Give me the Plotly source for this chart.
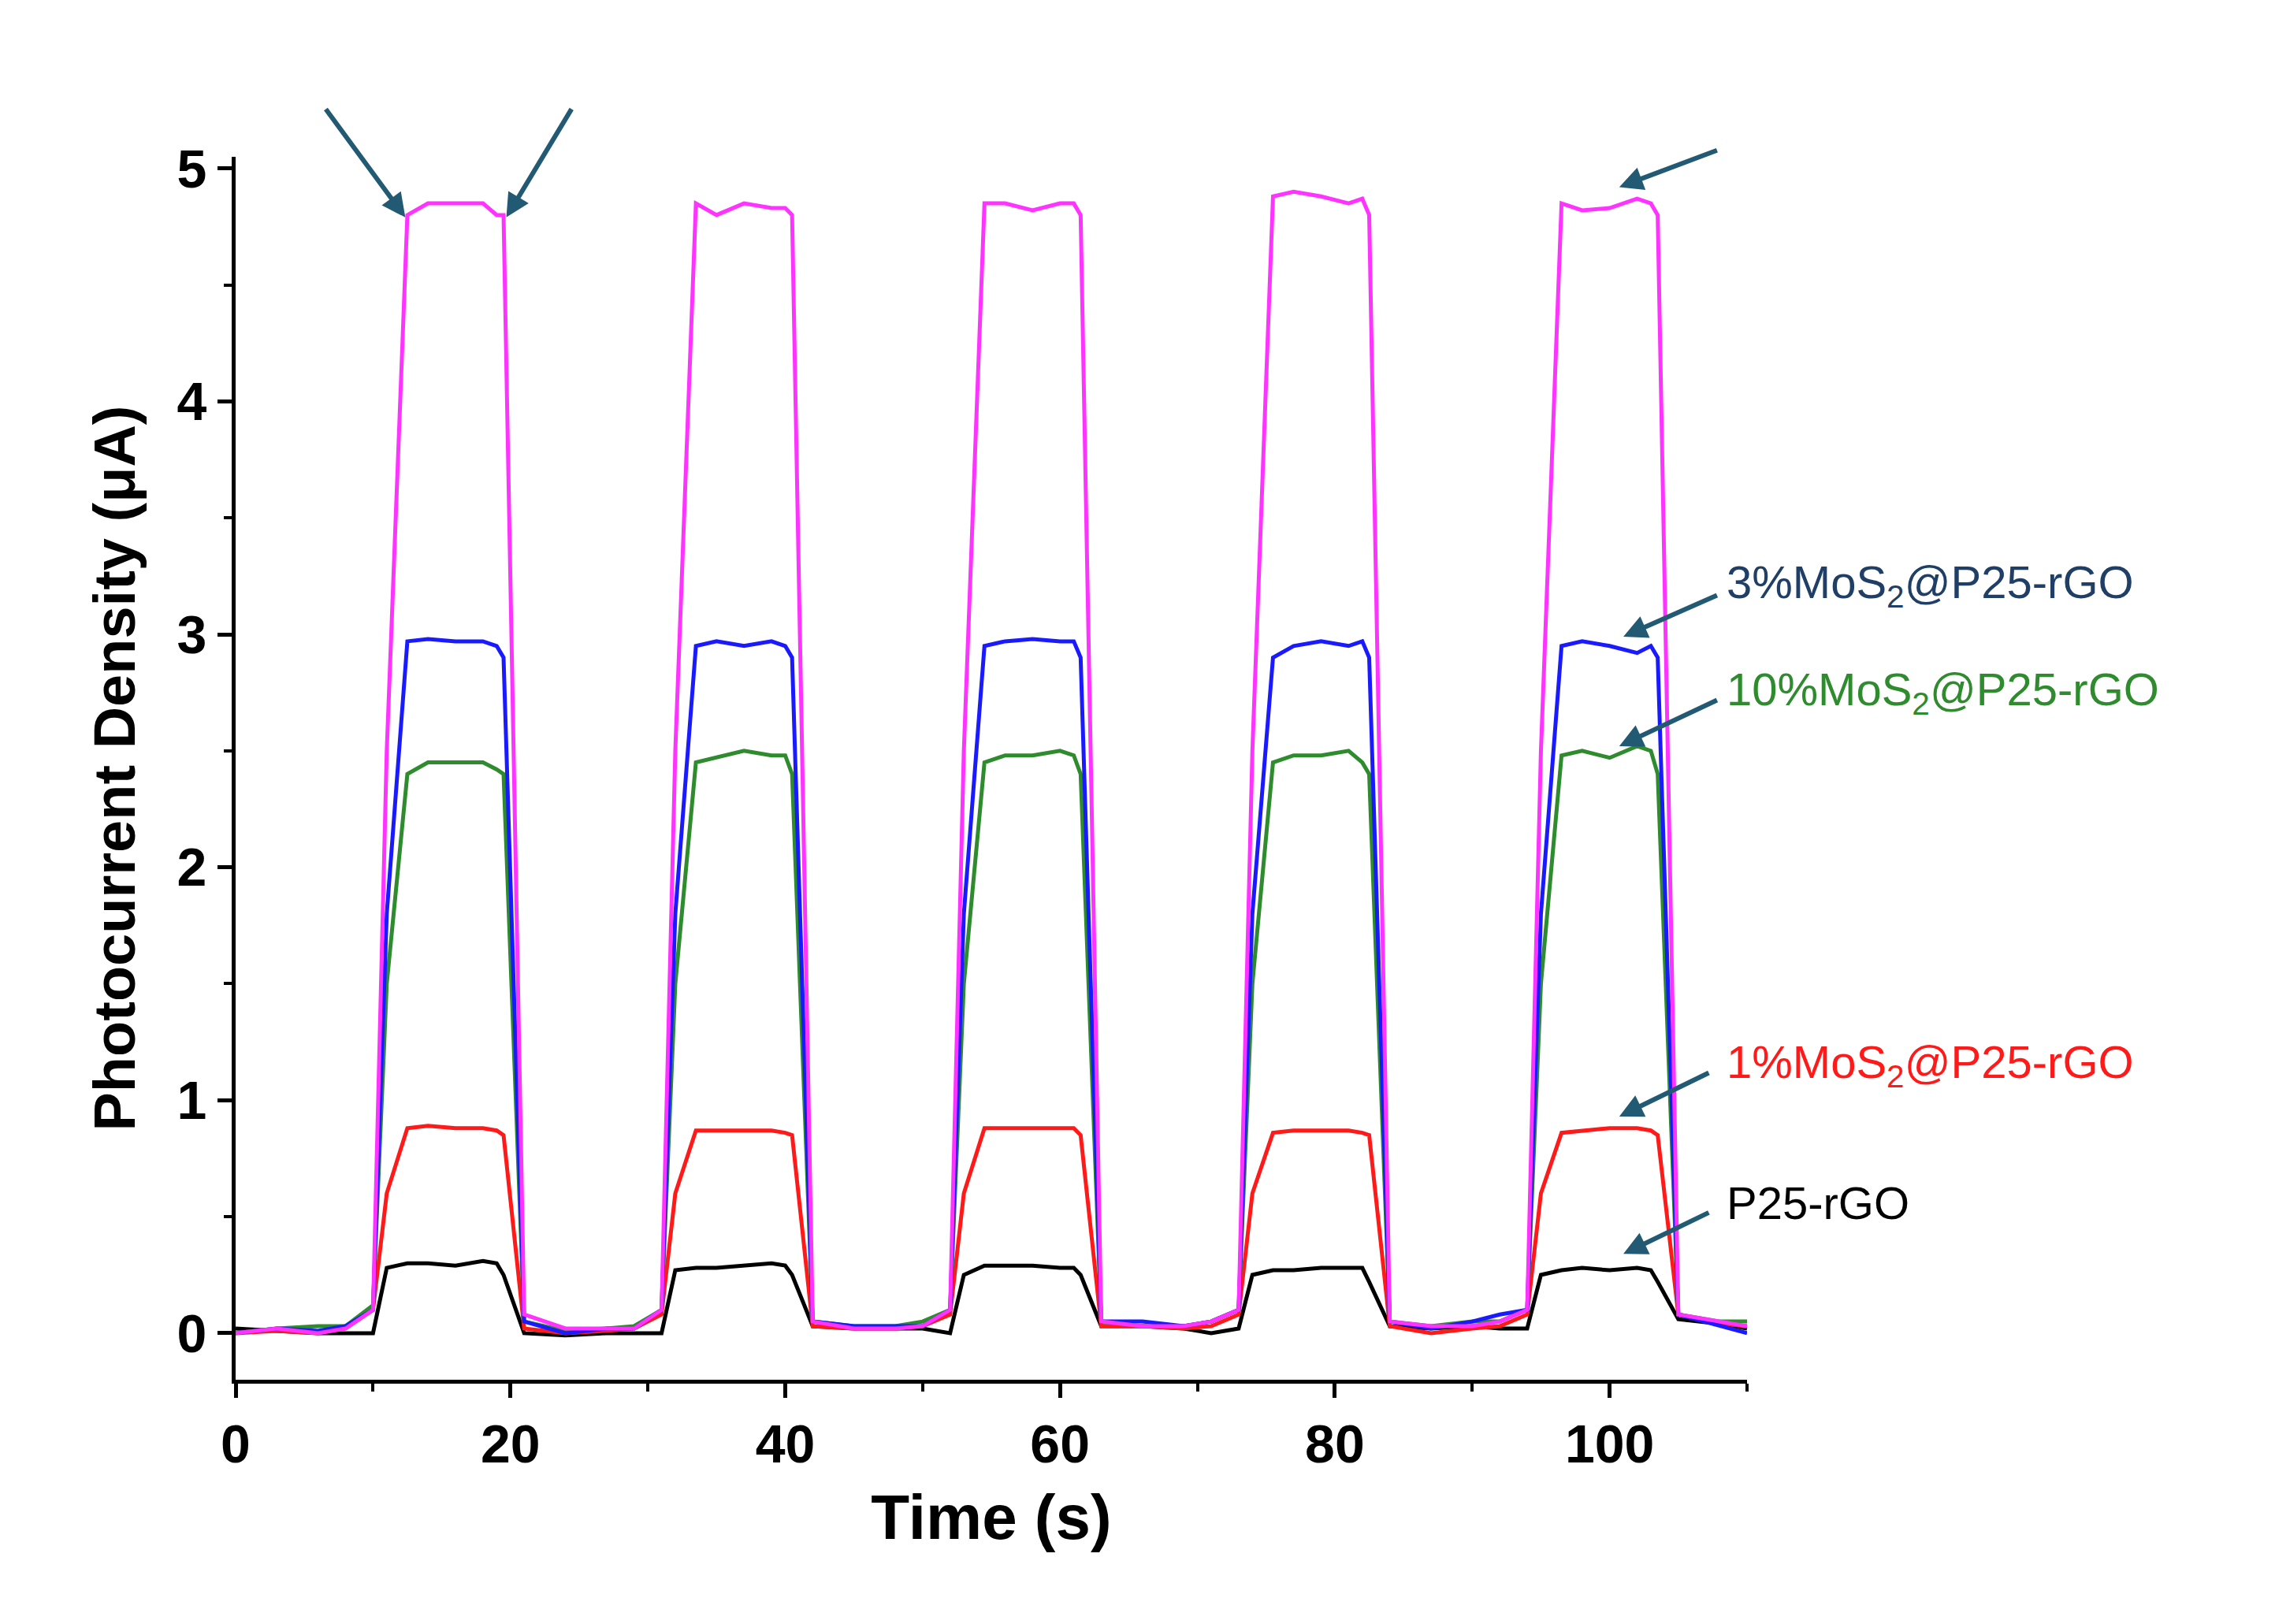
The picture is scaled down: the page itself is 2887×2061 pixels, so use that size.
import plotly.graph_objects as go

t = [0,3,6,8,
     10,11,12.5,14,16,18,19,19.5,21,24,27,29,
     31,32,33.5,35,37,39,40,40.5,42,45,48,50,
     52,53,54.5,56,58,60,61,61.5,63,66,69,71,
     73,74,75.5,77,79,81,82,82.5,84,87,90,92,
     94,95,96.5,98,100,102,103,103.5,105,108,110]
pink = [0,0.02,0,0.02, 0.1,2.5,4.8,4.85,4.85,4.85,4.8,4.8,0.08,0.02,0.02,0.02,
        0.1,2.5,4.85,4.8,4.85,4.83,4.83,4.8,0.05,0.02,0.02,0.03,
        0.1,2.5,4.85,4.85,4.82,4.85,4.85,4.8,0.05,0.03,0.03,0.05,
        0.1,2.5,4.88,4.9,4.88,4.85,4.87,4.8,0.05,0.03,0.03,0.05,
        0.1,2.5,4.85,4.82,4.83,4.87,4.85,4.8,0.08,0.05,0.03]
blue = [0,0.02,0.01,0.03, 0.1,1.8,2.97,2.98,2.97,2.97,2.95,2.9,0.05,0.0,0.02,0.02,
        0.1,1.8,2.95,2.97,2.95,2.97,2.95,2.9,0.05,0.03,0.03,0.03,
        0.1,1.8,2.95,2.97,2.98,2.97,2.97,2.9,0.05,0.05,0.03,0.05,
        0.1,1.8,2.9,2.95,2.97,2.95,2.97,2.9,0.05,0.02,0.05,0.08,
        0.1,1.8,2.95,2.97,2.95,2.92,2.95,2.9,0.08,0.03,0.0]
green = [0,0.02,0.03,0.03, 0.12,1.5,2.4,2.45,2.45,2.45,2.42,2.4,0.05,0.01,0.02,0.03,
         0.1,1.5,2.45,2.47,2.5,2.48,2.48,2.4,0.05,0.03,0.03,0.05,
         0.1,1.5,2.45,2.48,2.48,2.5,2.48,2.4,0.05,0.03,0.03,0.05,
         0.1,1.5,2.45,2.48,2.48,2.5,2.45,2.4,0.05,0.03,0.05,0.05,
         0.1,1.5,2.48,2.5,2.47,2.52,2.5,2.4,0.08,0.05,0.05]
red = [0,0.01,0.0,0.02, 0.1,0.6,0.88,0.89,0.88,0.88,0.87,0.85,0.02,0.0,0.01,0.02,
       0.08,0.6,0.87,0.87,0.87,0.87,0.86,0.85,0.03,0.02,0.02,0.03,
       0.08,0.6,0.88,0.88,0.88,0.88,0.88,0.85,0.03,0.03,0.02,0.03,
       0.08,0.6,0.86,0.87,0.87,0.87,0.86,0.85,0.03,0.0,0.02,0.03,
       0.08,0.6,0.86,0.87,0.88,0.88,0.87,0.85,0.08,0.04,0.03]
black = [0.02,0.01,0.0,0.0, 0.0,0.28,0.3,0.3,0.29,0.31,0.3,0.25,0.0,-0.01,0.0,0.0,
         0.0,0.27,0.28,0.28,0.29,0.3,0.29,0.25,0.03,0.02,0.02,0.02,
         0.0,0.25,0.29,0.29,0.29,0.28,0.28,0.25,0.03,0.03,0.02,0.0,
         0.02,0.25,0.27,0.27,0.28,0.28,0.28,0.22,0.03,0.02,0.03,0.02,
         0.02,0.25,0.27,0.28,0.27,0.28,0.27,0.22,0.06,0.04,0.02]

series = [("P25-rGO", black, "#000000"), ("1%", red, "#ff1a1a"),
          ("10%", green, "#2e8b2e"), ("3%", blue, "#1a1aff"), ("5%", pink, "#ff33ff")]

fig = go.Figure()
for name, y, c in series:
    fig.add_trace(go.Scatter(x=t, y=y, mode="lines", name=name, line=dict(color=c, width=5)))

arrow_c = "#235a73"
labels = [
    ("5%MoS<sub>2</sub>@P25-rGO", "#ff55ff", 5.1, 100.7, 4.92, 107.9, 5.08),
    ("3%MoS<sub>2</sub>@P25-rGO", "#1f3f66", 3.21, 101.0, 2.99, 107.9, 3.17),
    ("10%MoS<sub>2</sub>@P25-rGO", "#2e8b2e", 2.75, 100.7, 2.52, 107.9, 2.72),
    ("1%MoS<sub>2</sub>@P25-rGO", "#ff1a1a", 1.15, 100.7, 0.93, 107.3, 1.12),
    ("P25-rGO", "#000000", 0.56, 101.0, 0.34, 107.3, 0.52),
]
anns = []
for txt, col, ly, hx, hy, tx, ty in labels:
    anns.append(dict(x=108.4, y=ly, text=txt, showarrow=False, xanchor="left",
                     font=dict(size=58, color=col, family="Liberation Sans")))
    anns.append(dict(x=hx, y=hy, ax=tx, ay=ty, axref="x", ayref="y", text="",
                     showarrow=True, arrowhead=2, arrowsize=1, arrowwidth=6, arrowcolor=arrow_c))
for txt, lx, hx, tx in [("Light on", 6.3, 12.35, 6.5), ("Light off", 26.1, 19.7, 24.5)]:
    anns.append(dict(x=lx, y=5.46, text="<b>"+txt+"</b>", showarrow=False,
                     font=dict(size=58, color="black", family="Liberation Sans")))
    anns.append(dict(x=hx, y=4.79, ax=tx, ay=5.26, axref="x", ayref="y", text="",
                     showarrow=True, arrowhead=2, arrowsize=1, arrowwidth=6, arrowcolor=arrow_c))

fig.update_layout(
    width=2887, height=2061, showlegend=False,
    plot_bgcolor="white", paper_bgcolor="white",
    margin=dict(l=291, r=678, t=191, b=318),
    font=dict(family="Liberation Sans", color="black"),
    annotations=anns,
    xaxis=dict(range=[0, 110], dtick=20, tick0=0, showgrid=False, zeroline=False,
               showline=True, linecolor="black", linewidth=5, ticks="outside",
               ticklen=18, tickwidth=5, tickcolor="black",
               minor=dict(dtick=10, ticks="outside", ticklen=10, tickwidth=4, tickcolor="black"),
               tickfont=dict(size=68, family="Liberation Sans", color="black", weight="bold"),
               title=dict(text="<b>Time (s)</b>", font=dict(size=80), standoff=30)),
    yaxis=dict(range=[-0.2, 5.05], dtick=1, tick0=0, showgrid=False, zeroline=False,
               showline=True, linecolor="black", linewidth=5, ticks="outside",
               ticklen=18, tickwidth=5, tickcolor="black",
               minor=dict(dtick=0.5, ticks="outside", ticklen=10, tickwidth=4, tickcolor="black"),
               tickfont=dict(size=68, family="Liberation Sans", color="black", weight="bold"),
               title=dict(text="<b>Photocurrent Density (μA)</b>", font=dict(size=74), standoff=30)),
)
fig.write_html("out.html")
